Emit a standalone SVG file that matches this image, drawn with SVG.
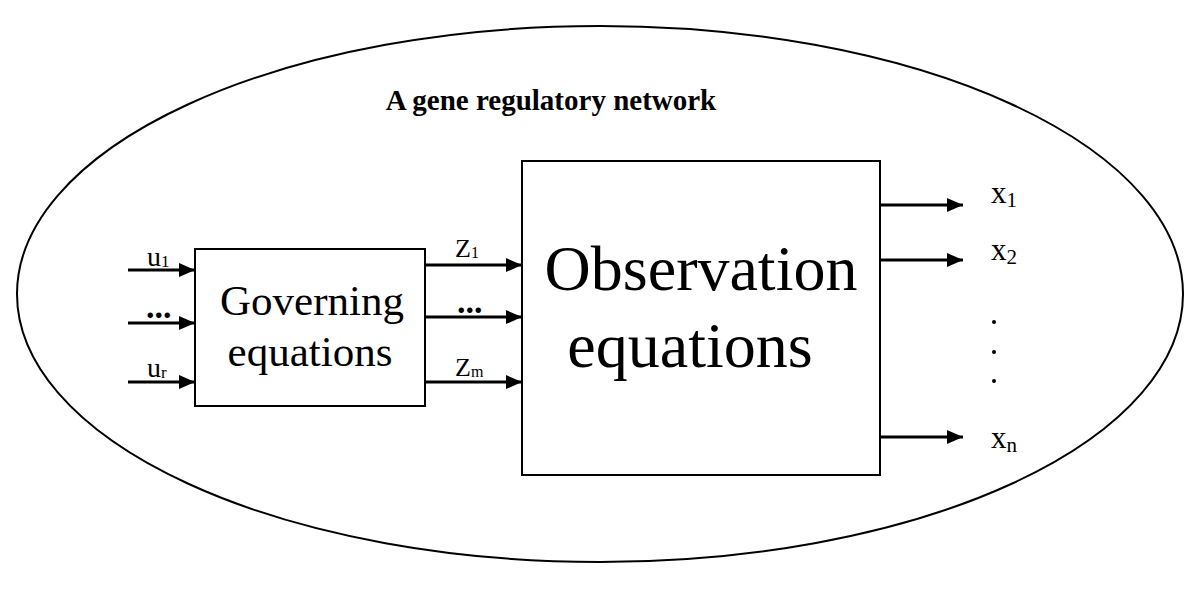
<svg xmlns="http://www.w3.org/2000/svg" width="1200" height="600" viewBox="0 0 1200 600">
<style>
.t{font-family:"Liberation Serif","Times New Roman",serif;fill:#000}
.ln{stroke:#000;stroke-width:3;fill:none}
.bx{stroke:#000;stroke-width:2;fill:#fff}
</style>
<defs>
<marker id="ah2" viewBox="0 0 16 14" refX="16" refY="7" markerWidth="16" markerHeight="14" orient="auto" markerUnits="userSpaceOnUse">
<path d="M0,0 L16,7 L0,14 z" fill="#000"/>
</marker>
</defs>
<rect width="1200" height="600" fill="#fff"/>
<g id="network">
<ellipse cx="600" cy="294" rx="583" ry="268" fill="none" stroke="#000" stroke-width="2"/>
<text class="t" x="551" y="110" font-size="29" font-weight="bold" text-anchor="middle">A gene regulatory network</text>
</g>
<g id="governing">
<rect class="bx" x="195" y="249" width="230" height="157"/>
<text class="t" x="312" y="315" font-size="43" text-anchor="middle">Governing</text>
<text class="t" x="310" y="366" font-size="43" text-anchor="middle">equations</text>
</g>
<g id="observation">
<rect class="bx" x="522" y="161" width="358" height="314"/>
<text class="t" x="701" y="290" font-size="64" text-anchor="middle">Observation</text>
<text class="t" x="690" y="367" font-size="64" text-anchor="middle">equations</text>
</g>
<g id="connectors">
<line class="ln" x1="128" y1="270" x2="195" y2="270" marker-end="url(#ah2)"/>
<line class="ln" x1="128" y1="323" x2="195" y2="323" marker-end="url(#ah2)"/>
<line class="ln" x1="128" y1="382" x2="195" y2="382" marker-end="url(#ah2)"/>
<line class="ln" x1="425" y1="265" x2="522" y2="265" marker-end="url(#ah2)"/>
<line class="ln" x1="425" y1="317" x2="522" y2="317" marker-end="url(#ah2)"/>
<line class="ln" x1="425" y1="382" x2="522" y2="382" marker-end="url(#ah2)"/>
<line class="ln" x1="880" y1="205" x2="963" y2="205" marker-end="url(#ah2)"/>
<line class="ln" x1="880" y1="260" x2="963" y2="260" marker-end="url(#ah2)"/>
<line class="ln" x1="880" y1="437" x2="963" y2="437" marker-end="url(#ah2)"/>
</g>
<g id="labels">
<text class="t" x="147" y="266" font-size="28">u<tspan font-size="17" dy="1">1</tspan></text>
<text class="t" x="146" y="318" font-size="34" font-weight="bold">...</text>
<text class="t" x="147" y="377" font-size="28">u<tspan font-size="17" dy="1">r</tspan></text>
<text class="t" x="455" y="257" font-size="26">Z<tspan font-size="16" dy="1">1</tspan></text>
<text class="t" x="457" y="313" font-size="34" font-weight="bold">...</text>
<text class="t" x="455" y="376" font-size="26">Z<tspan font-size="16" dy="1">m</tspan></text>
<text class="t" x="991" y="203" font-size="31">x<tspan font-size="21" dy="4">1</tspan></text>
<text class="t" x="991" y="260" font-size="31">x<tspan font-size="21" dy="4">2</tspan></text>
<text class="t" x="991" y="448" font-size="31">x<tspan font-size="21" dy="4">n</tspan></text>
<circle cx="994" cy="322" r="2"/>
<circle cx="994" cy="352" r="2"/>
<circle cx="994" cy="381" r="2"/>
</g>
</svg>
